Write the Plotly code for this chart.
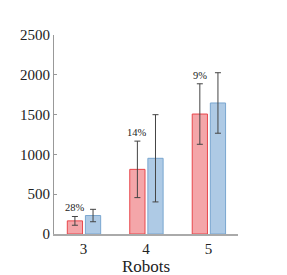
import plotly.graph_objects as go

robots = [3, 4, 5]
red_vals = [165, 812, 1507]
red_err = [55, 355, 380]
blue_vals = [232, 951, 1646]
blue_err = [78, 548, 380]
pct_labels = ["28%", "14%", "9%"]

font = "Liberation Serif"

fig = go.Figure()
fig.add_trace(go.Bar(
    x=robots, y=red_vals, width=0.244, offset=-0.26,
    marker=dict(color="rgba(240,128,132,0.7)", line=dict(color="#e8474c", width=1)),
    error_y=dict(type="data", array=red_err, color="#444444", thickness=1, width=3),
    showlegend=False,
))
fig.add_trace(go.Bar(
    x=robots, y=blue_vals, width=0.244, offset=0.03,
    marker=dict(color="rgba(140,180,218,0.7)", line=dict(color="#7aa7d0", width=1)),
    error_y=dict(type="data", array=blue_err, color="#444444", thickness=1, width=3),
    showlegend=False,
))
for r, v, e, t in zip(robots, red_vals, red_err, pct_labels):
    fig.add_annotation(x=r - 0.138, y=v + e, text=t, showarrow=False,
                       yanchor="bottom", yshift=1,
                       font=dict(family=font, size=10.5, color="#222"))

fig.update_layout(
    width=287, height=275,
    margin=dict(l=37, r=57, t=27, b=39),
    plot_bgcolor="white", paper_bgcolor="white",
    font=dict(family=font, size=15, color="#222"),
    xaxis=dict(range=[2.527, 5.473], tickvals=robots, ticktext=[str(r) for r in robots],
               showgrid=False, zeroline=False, showline=True, linecolor="#aaaaaa", linewidth=2,
               ticks="", title=dict(text="Robots", font=dict(size=17), standoff=2)),
    yaxis=dict(range=[0, 2500], tickvals=[0, 500, 1000, 1500, 2000, 2500],
               showgrid=False, zeroline=False, showline=True, linecolor="#999999", linewidth=1,
               ticks="inside", ticklen=3, tickcolor="#999999"),
)
fig.write_html("out.html")
